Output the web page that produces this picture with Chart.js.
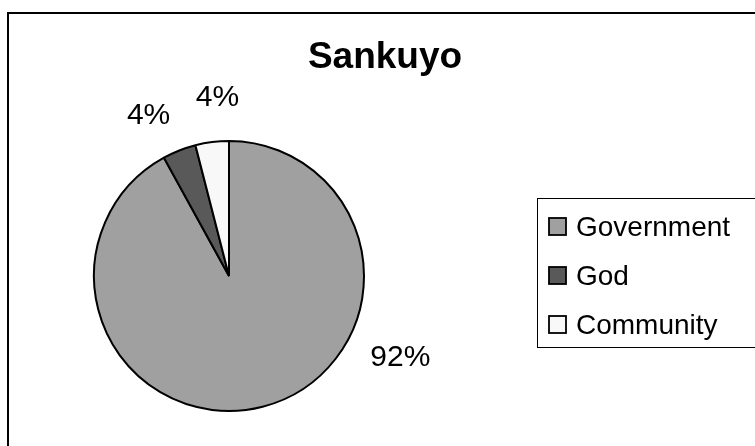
<!DOCTYPE html>
<html>
<head>
<meta charset="utf-8">
<script src="https://cdn.jsdelivr.net/npm/chart.js@4"></script>
<style>
  html, body { margin: 0; padding: 0; background: #fff; overflow: hidden; }
  #wrap { width: 755px; height: 446px; }
</style>
</head>
<body>
<div id="wrap"><canvas id="myChart" width="755" height="446"></canvas></div>
<script>
var chartTitle = 'Sankuyo';
var categories = ['Government', 'God', 'Community'];
var shares = [92, 4, 4];
var sliceColors = ['#a0a0a0', '#595959', '#f8f8f8'];

// where the percent labels sit: degrees clockwise from 12 o'clock, distance from centre
var labelAngle = [115.6, 333.3, 356.3];
var labelDist = [190, 179, 179];

var font = '"Liberation Sans", Arial, sans-serif';

var extras = {
  id: 'extras',
  afterDraw: function (chart) {
    var ctx = chart.ctx;
    ctx.save();

    // outer frame (runs off the right and bottom edges)
    ctx.strokeStyle = '#000';
    ctx.lineWidth = 2;
    ctx.strokeRect(8, 13, 800, 500);

    // title
    ctx.fillStyle = '#000';
    ctx.font = 'bold 37px ' + font;
    ctx.textAlign = 'center';
    ctx.textBaseline = 'alphabetic';
    ctx.fillText(chartTitle, 385, 68);

    // percent labels
    var arcs = chart.getDatasetMeta(0).data;
    var total = shares.reduce(function (a, b) { return a + b; }, 0);
    ctx.font = '30px ' + font;
    ctx.textBaseline = 'middle';
    arcs.forEach(function (arc, i) {
      var a = labelAngle[i] * Math.PI / 180;
      var x = arc.x + Math.sin(a) * labelDist[i];
      var y = arc.y - Math.cos(a) * labelDist[i];
      ctx.fillText(Math.round(shares[i] / total * 100) + '%', x, y);
    });

    // legend box
    ctx.lineWidth = 1;
    ctx.strokeStyle = '#000';
    ctx.strokeRect(537.5, 198.5, 300, 149);
    ctx.font = '28px ' + font;
    ctx.textAlign = 'left';
    categories.forEach(function (name, i) {
      var cy = 227 + i * 49;
      ctx.fillStyle = sliceColors[i];
      ctx.fillRect(549, cy - 9, 17, 17);
      ctx.lineWidth = 1.8;
      ctx.strokeRect(549, cy - 9, 17, 17);
      ctx.fillStyle = '#000';
      ctx.fillText(name, 576, cy + 1);
    });

    ctx.restore();
  }
};

var ctx = document.getElementById('myChart').getContext('2d');
var myChart = new Chart(ctx, {
  type: 'pie',
  data: {
    labels: categories,
    datasets: [{
      data: shares,
      backgroundColor: sliceColors,
      borderColor: '#000',
      borderWidth: 2
    }]
  },
  options: {
    responsive: false,
    animation: false,
    layout: {
      padding: { left: 93, right: 390, top: 140, bottom: 34 }
    },
    plugins: {
      legend: { display: false },
      title: { display: false },
      tooltip: { enabled: false }
    }
  },
  plugins: [extras]
});
</script>
</body>
</html>
